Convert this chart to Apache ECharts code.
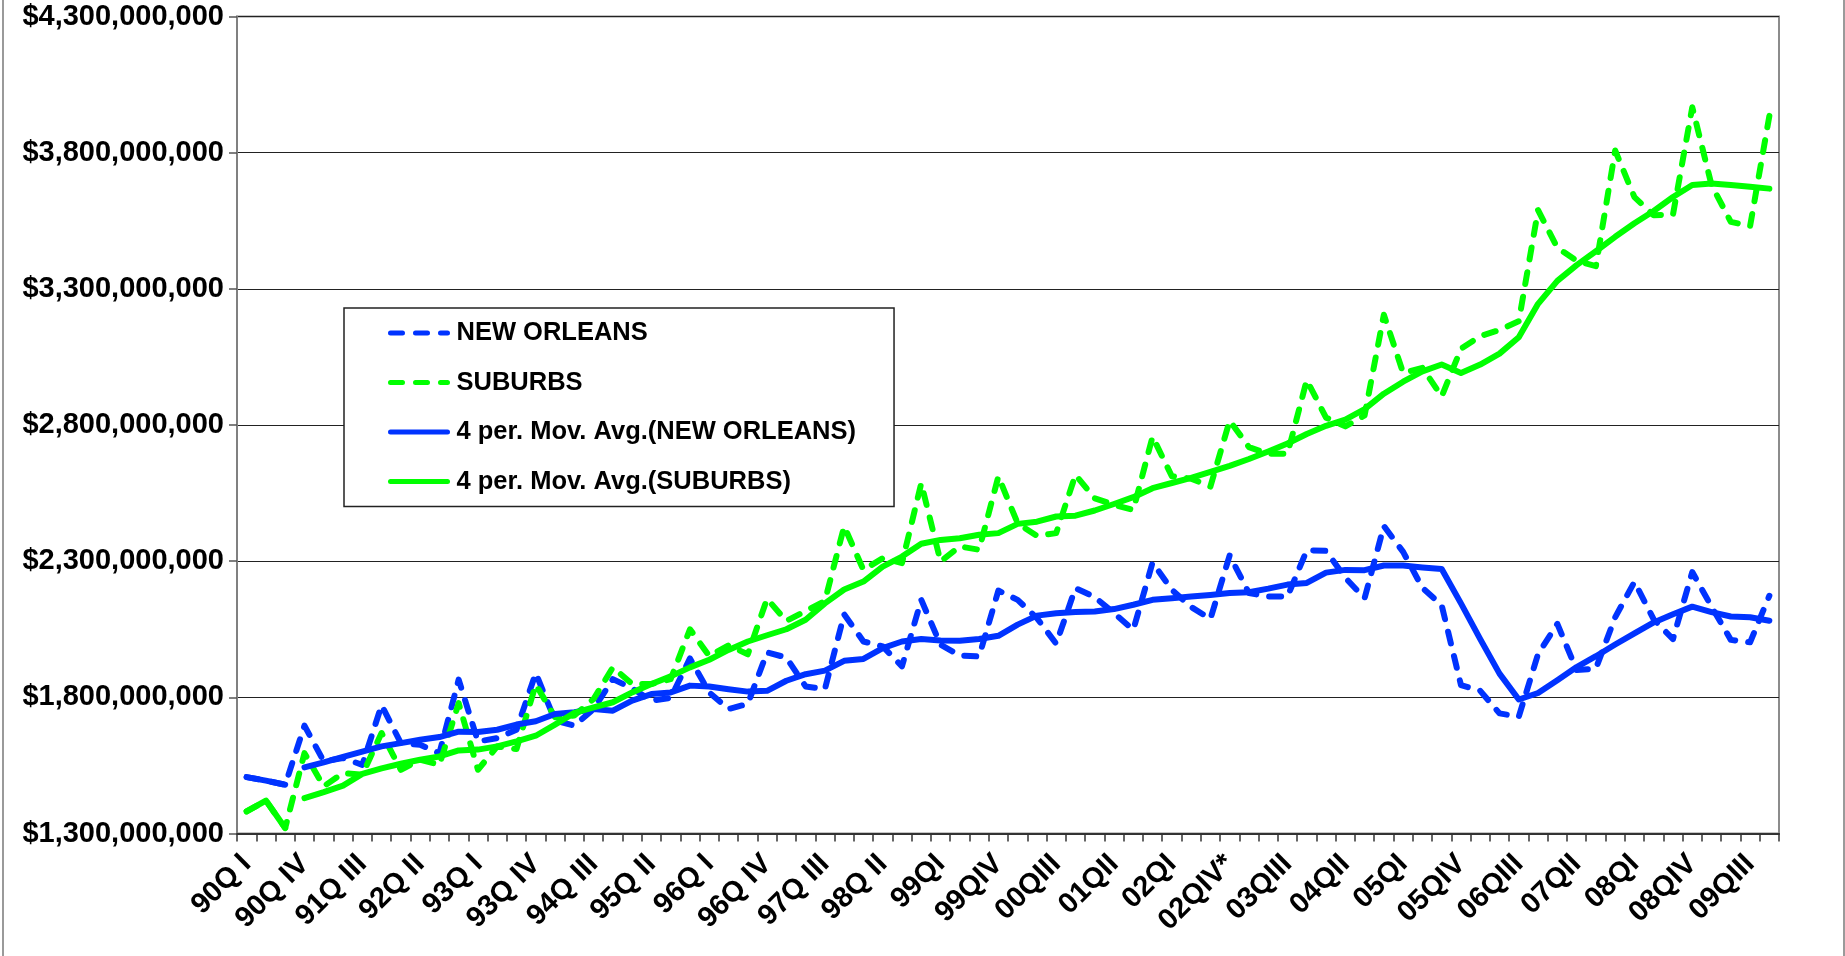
<!DOCTYPE html>
<html>
<head>
<meta charset="utf-8">
<title>New Orleans vs Suburbs</title>
<script src="https://cdn.jsdelivr.net/npm/echarts@6.0.0/dist/echarts.min.js"></script>
<style>
  html, body { margin: 0; padding: 0; background: #fff; }
  #chart { position: absolute; left: 0; top: 0; width: 1845px; height: 956px; }
  .frame { position: absolute; left: 2px; top: 0; width: 1839px; height: 956px;
           border-left: 2px solid #9a9a9a; border-right: 2px solid #9a9a9a; pointer-events: none; }
</style>
</head>
<body>
<div id="chart"></div>
<div class="frame"></div>
<script>
// quarters, 90Q I .. 09Q IV
const quarters = [
  '90Q I', '90Q II', '90Q III', '90Q IV', '91Q I', '91Q II', '91Q III', '91Q IV',
  '92Q I', '92Q II', '92Q III', '92Q IV', '93Q I', '93Q II', '93Q III', '93Q IV',
  '94Q I', '94Q II', '94Q III', '94Q IV', '95Q I', '95Q II', '95Q III', '95Q IV',
  '96Q I', '96Q II', '96Q III', '96Q IV', '97Q I', '97Q II', '97Q III', '97Q IV',
  '98Q I', '98Q II', '98Q III', '98Q IV', '99QI', '99QII', '99QIII', '99QIV',
  '00QI', '00QII', '00QIII', '00QIV', '01QI', '01QII', '01QIII', '01QIV',
  '02QI', '02QII', '02QIII', '02QIV*', '03QI', '03QII', '03QIII', '03QIV',
  '04QI', '04QII', '04QIII', '04QIV', '05QI', '05QII', '05QIII', '05QIV',
  '06QI', '06QII', '06QIII', '06QIV', '07QI', '07QII', '07QIII', '07QIV',
  '08QI', '08QII', '08QIII', '08QIV', '09QI', '09QII', '09QIII', '09QIV'
]

// values in millions of dollars
const newOrleans = [
  1507, 1494, 1479, 1696, 1565, 1577, 1552, 1771, 1632, 1626, 1595, 1865, 1638, 1650, 1681, 1889,
  1715, 1696, 1757, 1867, 1833, 1788, 1798, 1943, 1818, 1757, 1776, 1965, 1946, 1840, 1830, 2105,
  2005, 1987, 1914, 2158, 1993, 1954, 1950, 2192, 2158, 2091, 1997, 2201, 2168, 2109, 2048, 2295,
  2195, 2132, 2088, 2321, 2183, 2170, 2170, 2340, 2338, 2239, 2164, 2429, 2334, 2202, 2138, 1845,
  1824, 1741, 1729, 1959, 2070, 1900, 1906, 2094, 2224, 2086, 2014, 2260, 2133, 2011, 2002, 2173
]
const suburbs = [
  1381, 1421, 1320, 1595, 1473, 1522, 1516, 1669, 1534, 1571, 1552, 1779, 1534, 1620, 1610, 1847,
  1727, 1733, 1794, 1910, 1849, 1849, 1867, 2050, 1952, 1991, 1958, 2162, 2080, 2117, 2154, 2428,
  2268, 2311, 2293, 2586, 2299, 2354, 2342, 2611, 2439, 2393, 2403, 2617, 2531, 2507, 2488, 2757,
  2612, 2603, 2574, 2816, 2719, 2694, 2694, 2965, 2827, 2795, 2835, 3205, 2991, 3010, 2905, 3080,
  3126, 3149, 3181, 3589, 3451, 3403, 3383, 3808, 3637, 3570, 3573, 3967, 3681, 3546, 3530, 3935
]
const avgNewOrleans = [
  null, null, null, 1543, 1561, 1581, 1601, 1620, 1632, 1644, 1654, 1674, 1673, 1681, 1700, 1712,
  1739, 1745, 1757, 1751, 1788, 1812, 1818, 1843, 1840, 1830, 1821, 1824, 1861, 1885, 1898, 1934,
  1941, 1981, 2005, 2014, 2009, 2008, 2014, 2026, 2067, 2100, 2109, 2113, 2115, 2124, 2140, 2158,
  2164, 2170, 2176, 2183, 2186, 2199, 2214, 2220, 2258, 2268, 2267, 2284, 2284, 2277, 2271, 2145,
  2014, 1887, 1792, 1816, 1863, 1911, 1951, 1994, 2035, 2075, 2105, 2133, 2113, 2097, 2094, 2081
]
const avgSuburbs = [
  null, null, null, 1430, 1452, 1476, 1519, 1539, 1556, 1571, 1583, 1605, 1608, 1620, 1638, 1659,
  1700, 1743, 1763, 1782, 1818, 1849, 1877, 1910, 1938, 1974, 2005, 2028, 2050, 2085, 2145, 2196,
  2225, 2280, 2317, 2364, 2378, 2384, 2397, 2403, 2437, 2445, 2464, 2467, 2486, 2510, 2535, 2568,
  2587, 2606, 2628, 2650, 2675, 2703, 2732, 2767, 2797, 2820, 2858, 2915, 2959, 2997, 3022, 2991,
  3022, 3062, 3122, 3245, 3329, 3387, 3438, 3491, 3541, 3586, 3637, 3681, 3687, 3681, 3675, 3668
]

const BLUE = '#0033ff'
const GREEN = '#00ff00'
const FONT = 'Liberation Sans, Arial, sans-serif'
const toDollars = arr => arr.map(v => (v === null ? null : v * 1e6))
// the first few segments of the quarterly lines come out solid in the original
const leadIn = arr => arr.map((v, i) => (i < 3 ? v * 1e6 : null))

const dashed = { width: 6, type: [12, 13], cap: 'round', join: 'round' }
const solid = { width: 6, type: 'solid', cap: 'round', join: 'round' }

const chart = echarts.init(document.getElementById('chart'))

const option = {
  backgroundColor: '#fff',
  animation: false,
  textStyle: { fontFamily: FONT },
  grid: {
    left: 237,
    right: 66,
    top: 16.5,
    bottom: 122.5,
    show: true,
    borderColor: '#8c8c8c',
    borderWidth: 2
  },
  legend: {
    orient: 'vertical',
    left: 344,
    top: 308,
    padding: [12, 38, 12, 44],
    itemWidth: 57,
    itemHeight: 26,
    itemGap: 23.5,
    backgroundColor: '#fff',
    borderColor: '#222',
    borderWidth: 1.5,
    borderRadius: 0,
    lineStyle: { width: 5 },
    itemStyle: { opacity: 0 },
    textStyle: {
      fontSize: 25.5,
      fontWeight: 'bold',
      color: '#000',
      lineHeight: 26,
      padding: [0, 0, 0, 4],
      fontFamily: FONT
    },
    data: [
      'NEW ORLEANS',
      'SUBURBS',
      '4 per. Mov. Avg.(NEW ORLEANS)',
      '4 per. Mov. Avg.(SUBURBS)'
    ]
  },
  xAxis: {
    type: 'category',
    data: quarters,
    boundaryGap: true,
    axisLine: { lineStyle: { color: '#333', width: 2 } },
    axisTick: { show: true, interval: 0, length: 8, lineStyle: { color: '#333', width: 1.5 } },
    axisLabel: {
      interval: 2,
      rotate: 45,
      margin: 26,
      fontSize: 29,
      fontWeight: 'bold',
      color: '#000',
      fontFamily: FONT
    },
    splitLine: { show: false }
  },
  yAxis: {
    type: 'value',
    min: 1.3e9,
    max: 4.3e9,
    interval: 5e8,
    axisLine: { show: true, lineStyle: { color: '#808080', width: 2 } },
    axisTick: { show: true, length: 8, lineStyle: { color: '#555', width: 1.5 } },
    axisLabel: {
      margin: 13,
      fontSize: 29,
      fontWeight: 'bold',
      color: '#000',
      fontFamily: FONT,
      formatter: v => '$' + Math.round(v).toLocaleString('en-US')
    },
    splitLine: { show: true, lineStyle: { color: '#222', width: 1.2 } }
  },
  series: [
    {
      name: 'NEW ORLEANS',
      type: 'line',
      data: toDollars(newOrleans),
      symbol: 'none',
      lineStyle: Object.assign({ color: BLUE }, dashed),
      itemStyle: { color: BLUE }
    },
    {
      name: 'SUBURBS',
      type: 'line',
      data: toDollars(suburbs),
      symbol: 'none',
      lineStyle: Object.assign({ color: GREEN }, dashed),
      itemStyle: { color: GREEN }
    },
    {
      name: '4 per. Mov. Avg.(NEW ORLEANS)',
      type: 'line',
      data: toDollars(avgNewOrleans),
      symbol: 'none',
      lineStyle: Object.assign({ color: BLUE }, solid),
      itemStyle: { color: BLUE }
    },
    {
      name: '4 per. Mov. Avg.(SUBURBS)',
      type: 'line',
      data: toDollars(avgSuburbs),
      symbol: 'none',
      lineStyle: Object.assign({ color: GREEN }, solid),
      itemStyle: { color: GREEN }
    },
    {
      name: 'NEW ORLEANS',
      type: 'line',
      data: leadIn(newOrleans),
      symbol: 'none',
      lineStyle: Object.assign({ color: BLUE }, solid),
      itemStyle: { color: BLUE }
    },
    {
      name: 'SUBURBS',
      type: 'line',
      data: leadIn(suburbs),
      symbol: 'none',
      lineStyle: Object.assign({ color: GREEN }, solid),
      itemStyle: { color: GREEN }
    }
  ]
}

chart.setOption(option)
</script>
</body>
</html>
